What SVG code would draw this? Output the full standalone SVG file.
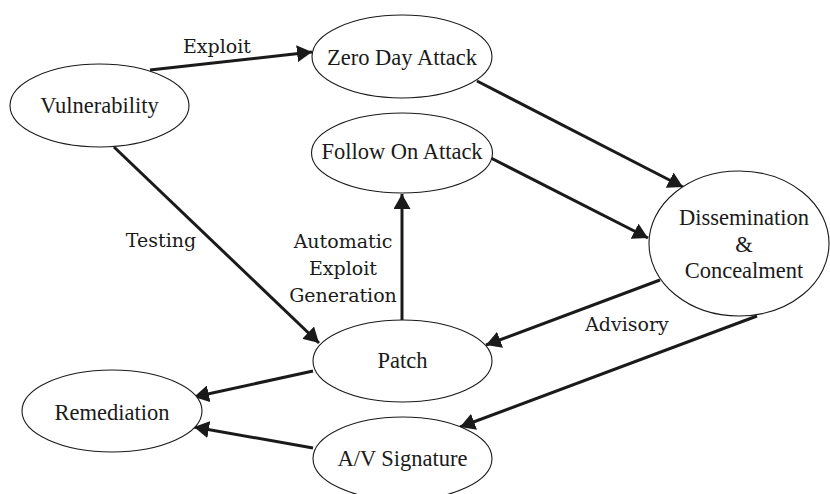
<svg xmlns="http://www.w3.org/2000/svg" width="830" height="494" viewBox="0 0 830 494">
  <style>
    .node ellipse { fill: #ffffff; stroke: #1a1a1a; stroke-width: 1.1; }
    .node text { font-family: 'Times New Roman', 'Liberation Serif', Times, serif; font-size: 22.5px; fill: #1a1a1a; text-anchor: middle; }
    .edge { stroke: #1a1a1a; stroke-width: 3; fill: none; marker-end: url(#arrow); }
    .elabel { font-family: 'DejaVu Serif', serif; font-size: 19px; fill: #1a1a1a; text-anchor: middle; }
  </style>
  <defs>
    <!-- filled triangular arrowhead, tip at the line end -->
    <marker id="arrow" markerUnits="userSpaceOnUse" markerWidth="16" markerHeight="17" refX="15" refY="8.5" orient="auto">
      <path d="M0,0 L15,8.5 L0,17 z" fill="#1a1a1a"/>
    </marker>
  </defs>
  <rect width="830" height="494" fill="#ffffff"/>

  <g id="connectors">
    <line class="edge" x1="150" y1="70" x2="312" y2="52"/>
    <line class="edge" x1="477" y1="81" x2="683" y2="187"/>
    <line class="edge" x1="487" y1="156" x2="648" y2="238"/>
    <line class="edge" x1="402" y1="320" x2="402" y2="194"/>
    <line class="edge" x1="114" y1="147" x2="319" y2="343"/>
    <line class="edge" x1="660" y1="280" x2="486" y2="345"/>
    <line class="edge" x1="757" y1="316" x2="460" y2="427"/>
    <line class="edge" x1="313" y1="371" x2="194" y2="397"/>
    <line class="edge" x1="313" y1="448" x2="194" y2="427"/>
    <text class="elabel" x="217" y="53">Exploit</text>
    <text class="elabel" x="161" y="247">Testing</text>
    <text class="elabel" x="343" y="248">Automatic</text>
    <text class="elabel" x="343" y="275">Exploit</text>
    <text class="elabel" x="343" y="302">Generation</text>
    <text class="elabel" x="627" y="331">Advisory</text>
  </g>

  <g id="vulnerability" class="node">
    <ellipse cx="99.5" cy="105.5" rx="89.5" ry="41.5"/>
    <text x="99.5" y="113">Vulnerability</text>
  </g>
  <g id="zero-day-attack" class="node">
    <ellipse cx="402" cy="56.5" rx="90" ry="41.5"/>
    <text x="402" y="65">Zero Day Attack</text>
  </g>
  <g id="follow-on-attack" class="node">
    <ellipse cx="402" cy="153" rx="90.5" ry="40"/>
    <text x="402" y="159">Follow On Attack</text>
  </g>
  <g id="dissemination" class="node">
    <ellipse cx="739" cy="243.5" rx="90" ry="72.5"/>
    <text x="744" y="225">Dissemination</text>
    <text x="744" y="252">&amp;</text>
    <text x="744" y="278">Concealment</text>
  </g>
  <g id="patch" class="node">
    <ellipse cx="402.5" cy="361" rx="89.5" ry="41"/>
    <text x="402.5" y="368">Patch</text>
  </g>
  <g id="remediation" class="node">
    <ellipse cx="112" cy="411" rx="90" ry="41"/>
    <text x="112" y="420">Remediation</text>
  </g>
  <g id="av-signature" class="node">
    <ellipse cx="402.5" cy="458.5" rx="89.5" ry="41.5"/>
    <text x="402.5" y="466">A/V Signature</text>
  </g>
</svg>
